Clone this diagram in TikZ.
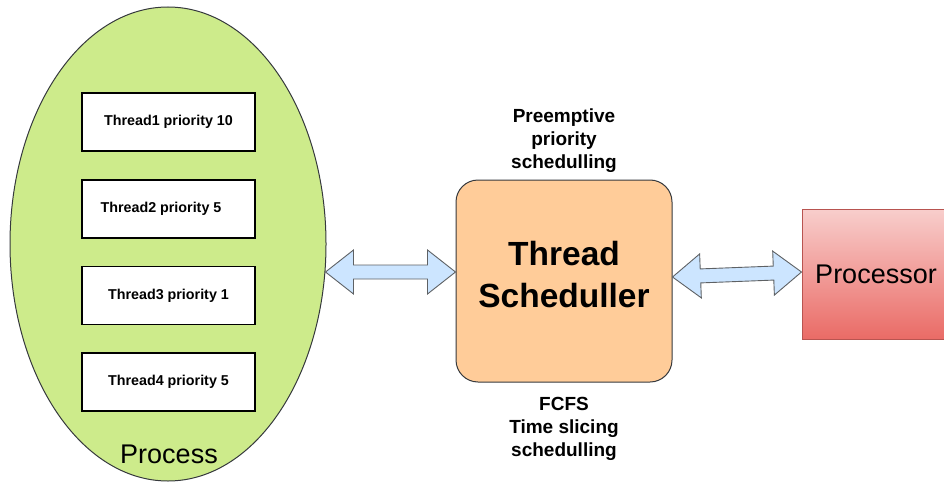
\documentclass[tikz,border=0pt]{standalone}
\usepackage{fontspec}
\setmainfont{Liberation Sans}
\usetikzlibrary{shapes.geometric,calc}
\definecolor{procgreen}{HTML}{CDEB8B}
\definecolor{schedfill}{HTML}{FFCC99}
\definecolor{darkline}{HTML}{36393D}
\definecolor{arrfill}{HTML}{CCE5FF}
\definecolor{cputop}{HTML}{F8CECC}
\definecolor{cpubot}{HTML}{EA6B66}
\definecolor{cpuline}{HTML}{B85450}
\newcommand\dblarrow[2]{%
  \draw[dblarr] (#1)
    -- ($(#1)!28pt!(#2)!22pt!90:(#2)$)
    -- ($(#1)!28pt!(#2)!7pt!90:(#2)$)
    -- ($(#2)!28pt!(#1)!7pt!-90:(#1)$)
    -- ($(#2)!28pt!(#1)!22pt!-90:(#1)$)
    -- (#2)
    -- ($(#2)!28pt!(#1)!22pt!90:(#1)$)
    -- ($(#2)!28pt!(#1)!7pt!90:(#1)$)
    -- ($(#1)!28pt!(#2)!7pt!-90:(#2)$)
    -- ($(#1)!28pt!(#2)!22pt!-90:(#2)$)
    -- cycle;}
\begin{document}
\begin{tikzpicture}[x=1pt,y=-1pt,
  procshape/.style={ellipse, draw=darkline, line width=1pt, fill=procgreen,
    minimum width=316pt, minimum height=474pt, inner sep=0pt},
  threadbox/.style={draw=black, line width=1.2pt, fill=white,
    minimum width=173pt, minimum height=58pt, inner sep=0pt,
    font=\fontsize{14.3}{17}\selectfont\bfseries},
  schedbox/.style={draw=darkline, line width=1pt, fill=schedfill,
    rounded corners=22pt, minimum width=216pt, minimum height=202pt,
    inner sep=0pt},
  schedtext/.style={align=center, inner sep=0pt,
    font=\fontsize{33.5}{42}\selectfont\bfseries},
  cpubox/.style={draw=cpuline, line width=1pt, top color=cputop,
    bottom color=cpubot, minimum width=150pt, minimum height=130pt,
    inner sep=0pt, font=\fontsize{27}{32}\selectfont},
  sidelabel/.style={align=center, inner sep=0pt,
    font=\fontsize{19}{23}\selectfont\bfseries},
  bigtext/.style={inner sep=0pt, font=\fontsize{27}{32}\selectfont},
  dblarr/.style={draw=darkline!80, line width=0.9pt, fill=arrfill, line join=miter}]
\useasboundingbox (0,0) rectangle (944,484);
\clip (0,0) rectangle (944,484);

\node[procshape] (process) at (168,244) {};
\node[threadbox] (t1) at (168.5,122) {Thread1 priority 10};
\node[threadbox] (t2) at (168.5,209) {Thread2 priority 5\hspace*{15pt}};
\node[threadbox] (t3) at (168.5,295.5) {Thread3 priority 1};
\node[threadbox] (t4) at (168.5,382) {Thread4 priority 5};
\node[bigtext] (ptext) at (169,454) {Process};

\node[schedbox] (sched) at (564,281) {};
\node[schedtext] (stext) at (564,275) {Thread\\Scheduller};
\node[sidelabel] (top) at (564,140.5) {Preemptive\\priority\\schedulling};
\node[sidelabel] (bottom) at (564,428.5) {FCFS\\Time slicing\\schedulling};

\node[cpubox] (cpu) at (877,274) {\hspace*{-2pt}Processor\hspace*{0pt}};

\path (process.east) ++(-1,28) coordinate (a1);
\coordinate (a2) at (sched.west |- a1);
\coordinate (b1) at ([yshift=4pt]sched.east);
\coordinate (b2) at ([yshift=2pt]cpu.west);

\dblarrow{a1}{a2}
\dblarrow{b1}{b2}
\end{tikzpicture}
\end{document}
